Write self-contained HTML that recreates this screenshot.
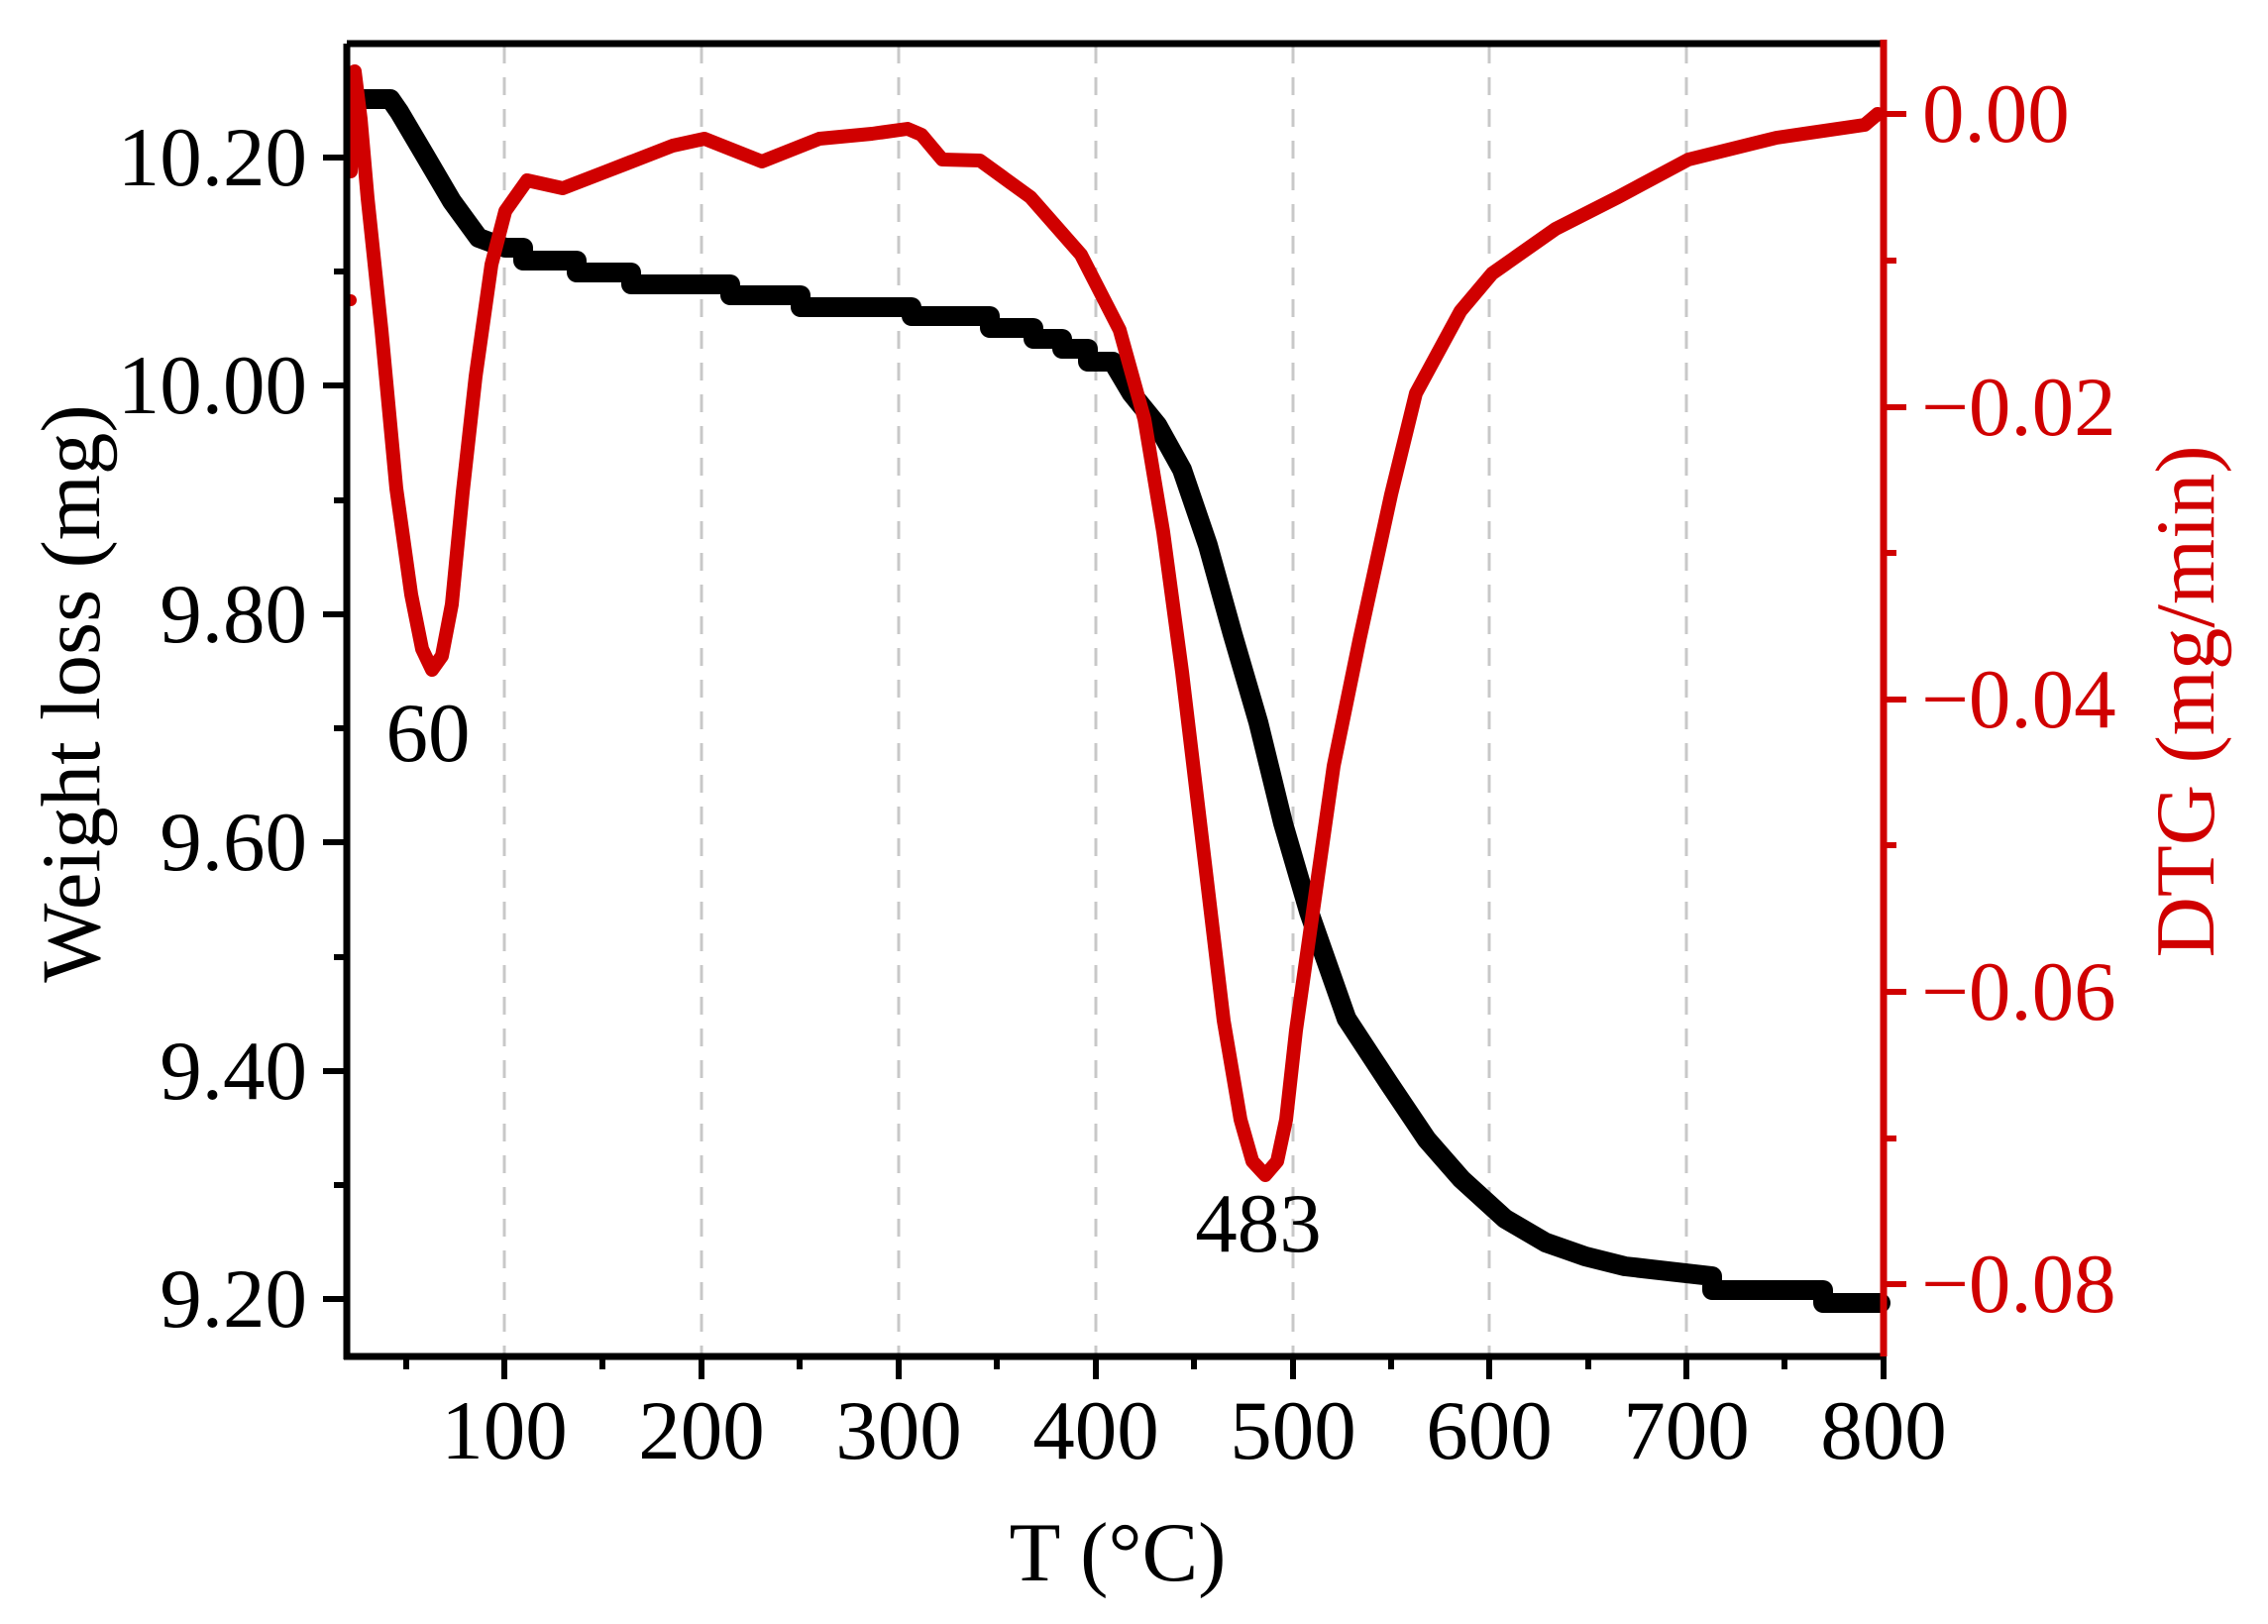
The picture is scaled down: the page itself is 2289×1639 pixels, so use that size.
<!DOCTYPE html>
<html><head><meta charset="utf-8"><style>
html,body{margin:0;padding:0;background:#fff;}
svg{display:block;}
text{font-family:"Liberation Serif","Times New Roman",serif;}
</style></head><body>
<svg width="2289" height="1639" viewBox="0 0 2289 1639" xmlns="http://www.w3.org/2000/svg">
<g stroke="#c8c8c8" stroke-width="3" stroke-dasharray="18,14">
<line x1="509" y1="46" x2="509" y2="1367"/>
<line x1="708" y1="46" x2="708" y2="1367"/>
<line x1="907" y1="46" x2="907" y2="1367"/>
<line x1="1106" y1="46" x2="1106" y2="1367"/>
<line x1="1305" y1="46" x2="1305" y2="1367"/>
<line x1="1503" y1="46" x2="1503" y2="1367"/>
<line x1="1702" y1="46" x2="1702" y2="1367"/>
</g>
<polyline fill="none" stroke="#000" stroke-width="20" stroke-linecap="round" stroke-linejoin="round"
points="362,100 394,100 403,113 429,157 456,203 483,240 510,250 528,250 528,263 582,263 582,275 637,275 637,287 737,287 737,298 808,298 808,310 920,310 920,319 999,319 999,331 1043,331 1043,342 1072,342 1072,352 1098,352 1098,365 1123,365 1142,397 1168,429 1193,474 1219,550 1244,640 1270,729 1295,831 1321,920 1359,1028 1401,1092 1440,1150 1475,1190 1519,1230 1560,1254 1600,1268 1640,1278 1728,1288 1728,1302 1840,1302 1840,1315 1898,1315"/>
<polyline fill="none" stroke="#d00000" stroke-width="14" stroke-linecap="round" stroke-linejoin="round"
points="354,173 358,72 364,120 371,200 385,333 400,493 415,600 426,655 436,676 446,662 456,610 467,497 480,380 496,267 510,213 532,182 568,190 612,173 679,147 711,140 769,163 827,140 880,135 916,130 930,136 951,161 989,162 1040,199 1091,257 1130,333 1155,423 1174,537 1193,678 1212,837 1235,1030 1252,1130 1264,1172 1277,1186 1289,1172 1298,1130 1308,1040 1346,773 1372,646 1404,499 1429,397 1474,314 1506,276 1570,231 1633,199 1704,161 1793,139 1882,126 1895,115"/>
<circle cx="354" cy="303" r="6" fill="#d00000"/>
<g stroke="#000" stroke-width="7" fill="none">
<line x1="350" y1="44" x2="1901" y2="44"/>
<line x1="350" y1="44" x2="350" y2="1372"/>
<line x1="347" y1="1369" x2="1901" y2="1369"/>
</g>
<line x1="1901" y1="40" x2="1901" y2="1369" stroke="#d00000" stroke-width="7"/>
<g stroke="#000" stroke-width="6">
<line x1="326" y1="159" x2="350" y2="159"/><line x1="326" y1="389" x2="350" y2="389"/>
<line x1="326" y1="620" x2="350" y2="620"/><line x1="326" y1="850" x2="350" y2="850"/>
<line x1="326" y1="1081" x2="350" y2="1081"/><line x1="326" y1="1311" x2="350" y2="1311"/>
<line x1="337" y1="274" x2="350" y2="274"/><line x1="337" y1="505" x2="350" y2="505"/>
<line x1="337" y1="735" x2="350" y2="735"/><line x1="337" y1="966" x2="350" y2="966"/>
<line x1="337" y1="1196" x2="350" y2="1196"/>
<line x1="509" y1="1369" x2="509" y2="1392"/><line x1="708" y1="1369" x2="708" y2="1392"/>
<line x1="907" y1="1369" x2="907" y2="1392"/><line x1="1106" y1="1369" x2="1106" y2="1392"/>
<line x1="1305" y1="1369" x2="1305" y2="1392"/><line x1="1503" y1="1369" x2="1503" y2="1392"/>
<line x1="1702" y1="1369" x2="1702" y2="1392"/><line x1="1901" y1="1369" x2="1901" y2="1392"/>
<line x1="410" y1="1369" x2="410" y2="1382"/><line x1="608" y1="1369" x2="608" y2="1382"/>
<line x1="807" y1="1369" x2="807" y2="1382"/><line x1="1006" y1="1369" x2="1006" y2="1382"/>
<line x1="1205" y1="1369" x2="1205" y2="1382"/><line x1="1404" y1="1369" x2="1404" y2="1382"/>
<line x1="1603" y1="1369" x2="1603" y2="1382"/><line x1="1801" y1="1369" x2="1801" y2="1382"/>
</g>
<g stroke="#d00000" stroke-width="6">
<line x1="1901" y1="115" x2="1924" y2="115"/><line x1="1901" y1="411" x2="1924" y2="411"/>
<line x1="1901" y1="706" x2="1924" y2="706"/><line x1="1901" y1="1001" x2="1924" y2="1001"/>
<line x1="1901" y1="1296" x2="1924" y2="1296"/>
<line x1="1901" y1="263" x2="1914" y2="263"/><line x1="1901" y1="558" x2="1914" y2="558"/>
<line x1="1901" y1="853" x2="1914" y2="853"/><line x1="1901" y1="1149" x2="1914" y2="1149"/>
</g>
<g font-size="85" text-anchor="end" fill="#000">
<text x="310" y="187">10.20</text><text x="310" y="417">10.00</text>
<text x="310" y="648">9.80</text><text x="310" y="878">9.60</text>
<text x="310" y="1109">9.40</text><text x="310" y="1339">9.20</text>
</g>
<g font-size="85" text-anchor="middle" fill="#000">
<text x="509" y="1472">100</text><text x="708" y="1472">200</text>
<text x="907" y="1472">300</text><text x="1106" y="1472">400</text>
<text x="1305" y="1472">500</text><text x="1503" y="1472">600</text>
<text x="1702" y="1472">700</text><text x="1901" y="1472">800</text>
</g>
<g font-size="85" fill="#d00000">
<text x="1940" y="143">0.00</text>
<text x="1939" y="439">−0.02</text><text x="1939" y="734">−0.04</text>
<text x="1939" y="1029">−0.06</text><text x="1939" y="1324">−0.08</text>
</g>
<text x="1128" y="1595" font-size="85" text-anchor="middle">T (°C)</text>
<text transform="translate(100,700) rotate(-90)" font-size="85" text-anchor="middle">Weight loss (mg)</text>
<text transform="translate(2234,708) rotate(-90)" font-size="85" text-anchor="middle" fill="#d00000">DTG (mg/min)</text>
<text x="432" y="768" font-size="85" text-anchor="middle">60</text>
<text x="1270" y="1263" font-size="85" text-anchor="middle">483</text>
</svg>
</body></html>
